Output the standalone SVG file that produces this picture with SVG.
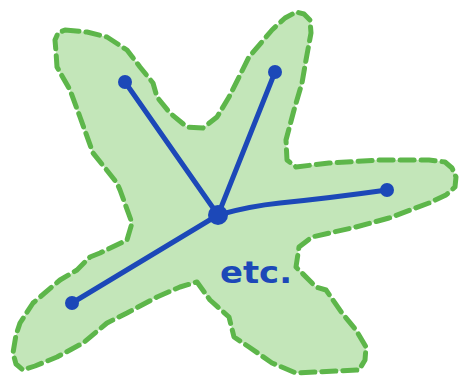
<svg xmlns="http://www.w3.org/2000/svg" width="459" height="380" viewBox="0 0 459 380">
<style>
.shape{fill:#c3e6b9;stroke:#5db64a;stroke-width:5;stroke-dasharray:14 7;stroke-linecap:round;stroke-linejoin:round}
.edge{fill:none;stroke:#1c48b8;stroke-width:5;stroke-linecap:round;stroke-linejoin:round}
.dot{fill:#1c48b8}
.lbl{font-family:"DejaVu Sans",sans-serif;font-weight:bold;font-size:30px;fill:#1c48b8}
</style>
<rect width="459" height="380" fill="#ffffff"/>
<g id="star">
<path class="shape" d="M65,30 L87,32 L107,37 L127,50 L140,67 L153,83 L157,97 L170,113 L187,127 L203,128 L217,117 L229,97 L239,77 L249,57 L272,30 L285,18 L296,12 L304,14 L310,20 L311,33 L306,60 L302,83 L294,110 L286,140 L287,160 L296,167 L329,163 L379,160 L429,160 L445,162 L452,168 L456,177 L455,187 L446,195 L429,203 L389,218 L356,227 L312,237 L299,247 L296,267 L316,287 L326,290 L342,313 L356,330 L366,347 L365,360 L359,370 L296,373 L272,363 L249,347 L234,337 L229,317 L210,300 L197,282 L180,287 L157,297 L127,313 L107,323 L83,343 L57,357 L35,366 L23,370 L16,364 L13,353 L16,335 L20,323 L33,303 L60,280 L77,270 L90,257 L100,253 L127,240 L132,223 L120,190 L117,183 L93,153 L80,117 L70,90 L57,67 L56,52 L55,40 L58,33 Z"/>
</g>
<g id="connectors">
<path class="edge" d="M218,215 L125,82"/>
<path class="edge" d="M218,215 L275,72"/>
<path class="edge" d="M218,215 L72,303"/>
<path class="edge" d="M218,215 Q250,206 280,203 Q330,198 387,190"/>
</g>
<g id="center"><circle class="dot" cx="218" cy="215" r="10"/></g>
<g id="n1"><circle class="dot" cx="125" cy="82" r="7"/></g>
<g id="n2"><circle class="dot" cx="275" cy="72" r="7"/></g>
<g id="n3"><circle class="dot" cx="387" cy="190" r="7"/></g>
<g id="n4"><circle class="dot" cx="72" cy="303" r="7"/></g>
<g id="label"><text class="lbl" x="220" y="283" textLength="72" lengthAdjust="spacingAndGlyphs">etc.</text></g>
</svg>
